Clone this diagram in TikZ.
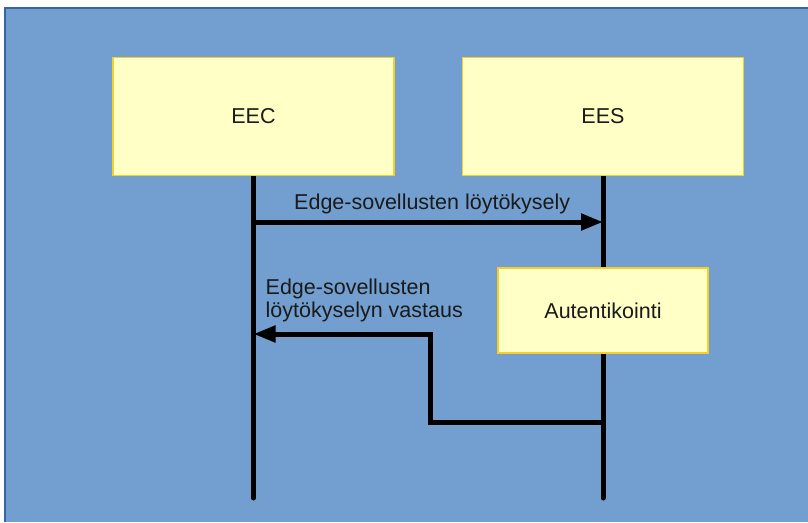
\documentclass[tikz,border=0pt]{standalone}
\usepackage{fontspec}
\setmainfont{Liberation Sans}
\usetikzlibrary{positioning, arrows.meta}
\usepackage{xcolor}

\definecolor{bgblue}{HTML}{729FCF}
\definecolor{bgedge}{HTML}{3465A4}
\definecolor{boxfill}{HTML}{FFFFC6}
\definecolor{boxline}{HTML}{F5CE2A}
\definecolor{textdark}{HTML}{1A1A1A}

\pgfdeclarelayer{back}
\pgfdeclarelayer{lines}
\pgfsetlayers{back,lines,main}

\begin{document}
\begin{tikzpicture}[
    x=1pt, y=-1pt,
    actor/.style={rectangle, draw=boxline, fill=boxfill, line width=1.5pt, minimum width=281pt, minimum height=118pt, font=\fontsize{21.5}{26}\selectfont, text=textdark},
    task/.style={rectangle, draw=boxline, fill=boxfill, line width=1.5pt, minimum width=210pt, minimum height=85pt, font=\fontsize{21.5}{26}\selectfont, text=textdark},
    lifeline/.style={line width=5pt, line cap=round},
    msg/.style={line width=5pt, -{Triangle[length=22pt, width=16pt]}},
    lbl/.style={inner sep=0pt, align=left, font=\fontsize{21.5}{23}\selectfont, text=textdark}
]
    \useasboundingbox (0,0) rectangle (808,522);

    \node[actor] (eec) at (253.5,116.5) {EEC};
    \node[actor] (ees) [right=67pt of eec] {EES};
    \node[task] (auth) [below=91pt of ees] {Autentikointi};

    \coordinate (eecEnd) at (eec.south |- 0,498);
    \coordinate (eesEnd) at (ees.south |- 0,498);
    \coordinate (eecReq) at (eec.south |- 0,222);
    \coordinate (eesReq) at (ees.south |- 0,222);
    \coordinate (eesRet) at (ees.south |- 0,422);
    \coordinate (eecRet) at (eec.south |- 0,334);
    \coordinate (bend) at (430,334);

    % background panel
    \begin{pgfonlayer}{back}
        \fill[bgblue] (5,8) rectangle (808,522);
        \draw[bgedge, line width=1.5pt] (5,522) -- (5,8) -- (808,8);
    \end{pgfonlayer}

    % lifelines
    \begin{pgfonlayer}{lines}
        \draw[lifeline] (eec.south) -- (eecEnd);
        \draw[lifeline] (ees.south) -- (eesEnd);
    \end{pgfonlayer}

    % messages
    \draw[msg] (eecReq) -- (eesReq)
        node[lbl, midway, above=6pt, xshift=4pt] {Edge-sovellusten löytökysely};
    \draw[msg] (eesRet) -| (bend) -- (eecRet);
    \node[lbl, anchor=south west, xshift=12pt, yshift=12pt] (retlbl) at (eecRet) {Edge-sovellusten\\löytökyselyn vastaus};
\end{tikzpicture}
\end{document}
